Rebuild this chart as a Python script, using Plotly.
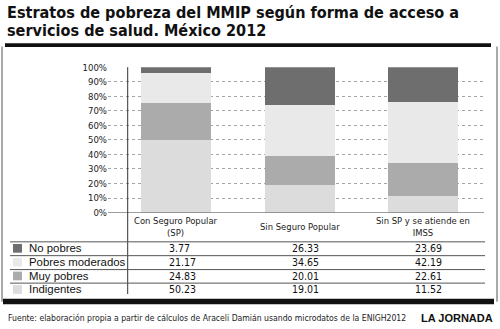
import plotly.graph_objects as go

# ---- data ----
categories = ["Con Seguro Popular<br>(SP)", "Sin Seguro Popular", "Sin SP y se atiende en<br>IMSS"]
series_names = ["No pobres", "Pobres moderados", "Muy pobres", "Indigentes"]
no_pobres = [3.77, 26.33, 23.69]
pobres_moderados = [21.17, 34.65, 42.19]
muy_pobres = [24.83, 20.01, 22.61]
indigentes = [50.23, 19.01, 11.52]
y_ticks = [0, 10, 20, 30, 40, 50, 60, 70, 80, 90, 100]
y_tick_labels = [f"{v}%" for v in y_ticks]

title_lines = ["Estratos de pobreza del MMIP según forma de acceso a",
               "servicios de salud. México 2012"]
source_text = "Fuente: elaboración propia a partir de cálculos de Araceli Damián usando microdatos de la ENIGH2012"
brand_text = "LA JORNADA"

colors = {"No pobres": "#6e6e6e", "Pobres moderados": "#e9e9e9",
          "Muy pobres": "#ababab", "Indigentes": "#dcdcdc"}
values = {"No pobres": no_pobres, "Pobres moderados": pobres_moderados,
          "Muy pobres": muy_pobres, "Indigentes": indigentes}

W, H = 500, 329
def px(x):
    return x / W
def py(y):
    return 1 - y / H

COND = "DejaVu Sans Condensed, DejaVu Sans, sans-serif"
ARIAL = "Liberation Sans, Arial, sans-serif"
xs = list(range(len(categories)))

fig = go.Figure()
for name in ["Indigentes", "Muy pobres", "Pobres moderados", "No pobres"]:
    fig.add_trace(go.Bar(x=xs, y=values[name], name=name, width=0.568,
                         marker=dict(color=colors[name], line=dict(width=0)),
                         showlegend=False, hoverinfo="skip"))

x_left, x_right = -0.555, 2.496
fig.update_layout(
    width=W, height=H, margin=dict(l=0, r=0, t=0, b=0),
    paper_bgcolor="white", plot_bgcolor="white",
    barmode="stack", showlegend=False,
    xaxis=dict(domain=[px(108), px(484)], range=[x_left, x_right],
               showticklabels=False, showgrid=False, zeroline=False, showline=False),
    yaxis=dict(domain=[py(213.7), py(63.3)], range=[0, 100],
               tickmode="array", tickvals=y_ticks, ticktext=y_tick_labels,
               showgrid=True, gridcolor="#a5a5a5", griddash="3px,3px",
               gridwidth=1, zeroline=False, showline=False, ticks="",
               tickfont=dict(family=COND, size=9.5, color="#222")),
    font=dict(family=COND),
)

shapes = []
shapes.append(dict(type="line", xref="paper", yref="y", x0=px(108), x1=px(484), y0=0, y1=0,
                   line=dict(color="#333", width=1), layer="above"))
ax_x = x_left + (127.7 - 108) / (484 - 108) * (x_right - x_left)
shapes.append(dict(type="line", xref="x", yref="paper", x0=ax_x, x1=ax_x, y0=py(298), y1=py(63.3),
                   line=dict(color="#333", width=1), layer="above"))
shapes.append(dict(type="rect", xref="paper", yref="paper", x0=px(5), x1=px(491), y0=py(42.5), y1=py(38.5),
                   fillcolor="#111", line=dict(width=0)))
shapes.append(dict(type="rect", xref="paper", yref="paper", x0=px(3), x1=px(494), y0=py(308.5), y1=py(303),
                   fillcolor="#111", line=dict(width=0)))
for xx in (2, 497):
    shapes.append(dict(type="line", xref="paper", yref="paper", x0=px(xx), x1=px(xx), y0=py(306), y1=py(42),
                       line=dict(color="#555", width=1)))
for yy in (244, 258.3, 272.7, 286.7):
    shapes.append(dict(type="line", xref="paper", yref="paper", x0=px(10), x1=px(485), y0=py(yy), y1=py(yy),
                       line=dict(color="#555", width=1)))

annotations = []
for i, t in enumerate(title_lines):
    annotations.append(dict(text="<b>" + t + "</b>", xref="paper", yref="paper", x=px(6), y=py(7 + 18 * i),
                            xanchor="left", yanchor="middle", showarrow=False, borderpad=0,
                            font=dict(family=COND, size=16.1, color="#111")))
for i, c in enumerate(categories):
    annotations.append(dict(text=c, xref="x", yref="paper", x=xs[i], y=py(228.5),
                            xanchor="center", yanchor="middle", showarrow=False,
                            font=dict(family=COND, size=9.4, color="#222")))
row_y = [250.7, 265, 279.3, 293.3]
for r, name in enumerate(series_names):
    shapes.append(dict(type="rect", xref="paper", yref="paper", x0=px(13), x1=px(22),
                       y0=py(row_y[r] + 4.5), y1=py(row_y[r] - 4.5),
                       fillcolor=colors[name], line=dict(width=0)))
    annotations.append(dict(text=name, xref="paper", yref="paper", x=px(27), y=py(row_y[r]),
                            xanchor="left", yanchor="middle", showarrow=False,
                            font=dict(family=ARIAL, size=11.4, color="#111")))
    for i in xs:
        annotations.append(dict(text="%.2f" % values[name][i], xref="x", yref="paper",
                                x=xs[i] - 0.077, y=py(row_y[r]),
                                xanchor="left", yanchor="middle", showarrow=False,
                                font=dict(family=COND, size=10.5, color="#111")))
annotations.append(dict(text=source_text, xref="paper", yref="paper", x=px(6), y=py(323),
                        xanchor="left", yanchor="middle", showarrow=False,
                        font=dict(family=COND, size=8.6, color="#222")))
annotations.append(dict(text="<b>" + brand_text + "</b>", xref="paper", yref="paper", x=px(495), y=py(323),
                        xanchor="right", yanchor="middle", showarrow=False,
                        font=dict(family=ARIAL, size=11, color="#111")))

fig.update_layout(shapes=shapes, annotations=annotations)
fig.write_html("out.html")
